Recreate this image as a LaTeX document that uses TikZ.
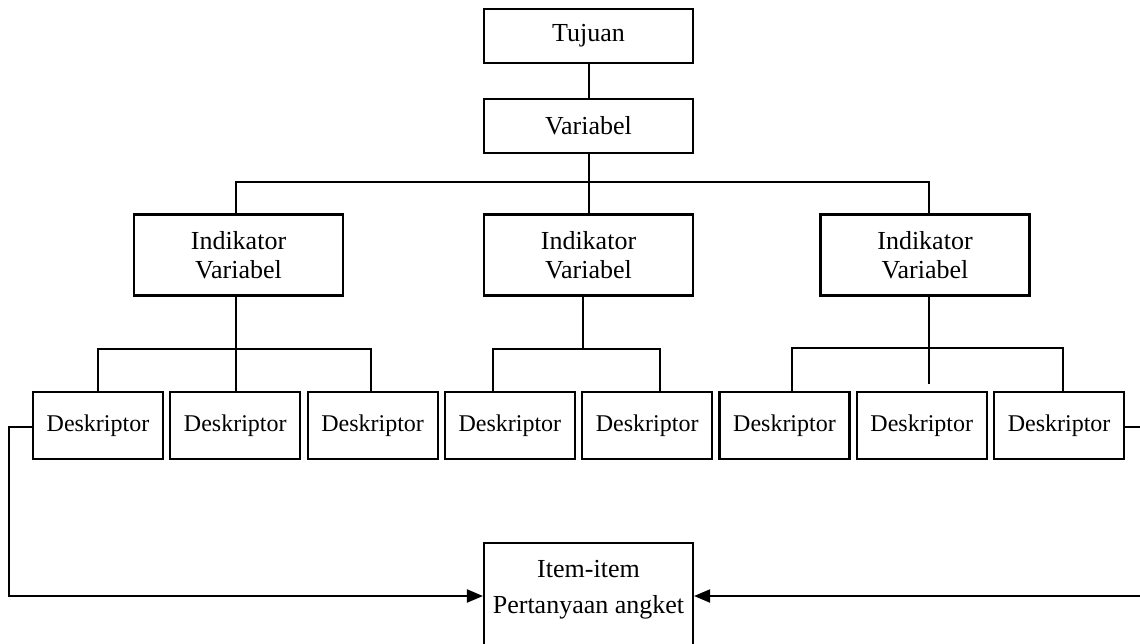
\documentclass[tikz,border=0pt]{standalone}
\usepackage{fontspec}
\setmainfont{Liberation Serif}
\usetikzlibrary{arrows.meta,calc}

\begin{document}
\begin{tikzpicture}[x=1pt,y=-1pt,
  line width=2.1pt,
  box/.style={draw, line width=2.1pt, inner sep=0pt, align=center,
    font=\fontsize{26}{29.5}\selectfont},
  topbox/.style={box, minimum width=209pt, minimum height=54pt},
  indbox/.style={box, minimum width=209pt, minimum height=81pt},
  descbox/.style={box, minimum width=130pt, minimum height=67pt,
    font=\fontsize{24}{28}\selectfont},
  link/.style={line width=2pt},
  feed/.style={line width=2pt, -{Triangle[length=16pt,width=13pt]}}
]
\useasboundingbox (0,0) rectangle (1140,643);

% upper levels
\node[topbox] (tuj) at (588.5,36) {Tujuan};
\node[topbox] (var) at (588.5,126) {Variabel};
\node[indbox] (ind1) at (238.5,255) {Indikator\\Variabel};
\node[indbox] (ind2) at (588.5,255) {Indikator\\Variabel};
\node[indbox] (ind3) at (925,255) {Indikator\\Variabel};

% descriptors
\foreach \i/\x in {1/98,2/235.3,3/372.6,4/509.9,5/647.2,6/784.5,7/921.8,8/1059.1}
  \node[descbox] (d\i) at (\x,425.5) {Deskriptor};

% question items (box runs past the lower edge)
\node[draw, line width=2.1pt, minimum width=209pt, minimum height=120pt,
  anchor=north, inner sep=0pt] (item) at (588.5,542) {};
\node[align=center, inner sep=0pt, anchor=north,
  font=\fontsize{26}{36}\selectfont] (itemtxt) at (588.5,559)
  {Item-item\\Pertanyaan angket};

% Tujuan -> Variabel -> indicators
\coordinate (tl) at (236,182);
\coordinate (tr) at (929,182);
\draw[link] (tuj.south) -- (var.south |- tuj.south) -- (var.north);
\draw[link] (var.south) -- (var.south |- tl) -- (ind2.north);
\draw[link] (ind1.north -| tl) -- (tl) -- (tr) -- (ind3.north -| tr);

% first group
\coordinate (g1l) at (98,349);
\coordinate (g1r) at (371,349);
\draw[link] (ind1.south -| tl) -- (d2.north -| tl);
\draw[link] (d1.north -| g1l) -- (g1l) -- (g1r) -- (d3.north -| g1r);

% second group
\coordinate (g2l) at (493,349);
\coordinate (g2r) at (660,349);
\coordinate (g2m) at (583,349);
\draw[link] (ind2.south -| g2m) -- (g2m);
\draw[link] (d4.north -| g2l) -- (g2l) -- (g2r) -- (d5.north -| g2r);

% third group
\coordinate (g3l) at (792,348);
\coordinate (g3r) at (1063,348);
\coordinate (g3m) at (929,384);
\draw[link] (ind3.south -| g3m) -- (g3m);
\draw[link] (d6.north -| g3l) -- (g3l) -- (g3r) -- (d8.north -| g3r);

% feedback lines to the question items
\coordinate (fl) at (9,427);
\coordinate (fr) at (1146,427);
\coordinate (ay) at (0,596);
\draw[feed] (d1.west |- fl) -- (fl) -- (fl |- ay) -- (item.west |- ay);
\draw[feed] (d8.east |- fr) -- (fr) -- (fr |- ay) -- (item.east |- ay);
\end{tikzpicture}
\end{document}
